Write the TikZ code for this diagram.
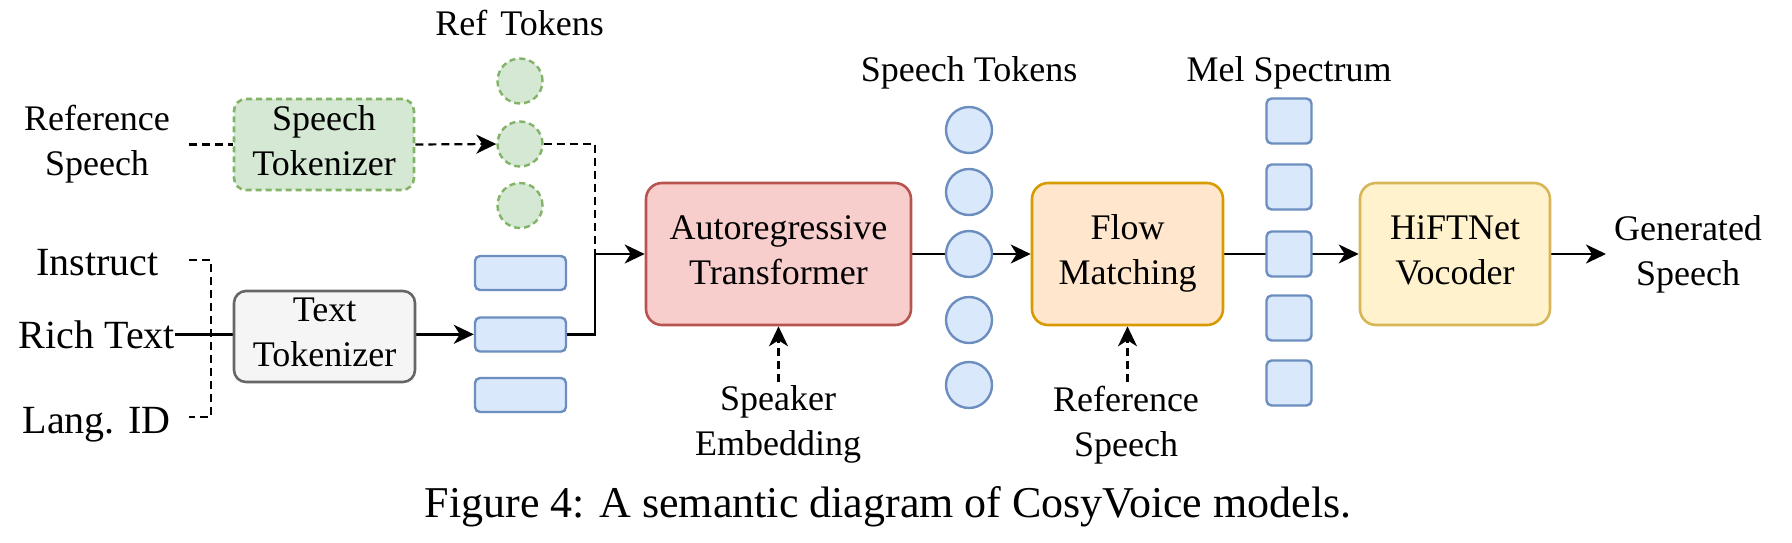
\documentclass[tikz,border=0pt]{standalone}
\usepackage{fontspec}
\setmainfont{Liberation Serif}
\usetikzlibrary{arrows.meta}
\definecolor{gfill}{HTML}{D5E8D4}\definecolor{gline}{HTML}{82B366}
\definecolor{bfill}{HTML}{DAE8FC}\definecolor{bline}{HTML}{6C8EBF}
\definecolor{rfill}{HTML}{F8CECC}\definecolor{rline}{HTML}{B85450}
\definecolor{ofill}{HTML}{FFE6CC}\definecolor{oline}{HTML}{D79B00}
\definecolor{yfill}{HTML}{FFF2CC}\definecolor{yline}{HTML}{D6B656}
\definecolor{kfill}{HTML}{F5F5F5}\definecolor{kline}{HTML}{666666}
\pgfdeclarelayer{bg}\pgfsetlayers{bg,main}
\begin{document}
\begin{tikzpicture}[x=1pt,y=-1pt,
  two/.style={execute at begin node={\rule{0pt}{34pt}}, execute at end node={\rule[-8pt]{0pt}{8pt}}},
  lbl/.style={font=\fontsize{36}{45}\selectfont, align=center, inner sep=0pt},
  big/.style={font=\fontsize{40}{48}\selectfont, inner sep=0pt, anchor=base},
  box/.style={draw, line width=2.6pt, rounded corners=14pt, align=center, inner sep=0pt,
    font=\fontsize{36}{45}\selectfont, two},
  gcirc/.style={circle, draw=gline, fill=gfill, line width=2.4pt, dash pattern=on 6pt off 4pt, minimum size=45pt, inner sep=0pt},
  scirc/.style={circle, draw=bline, fill=bfill, line width=2.4pt, minimum size=46pt, inner sep=0pt},
  brect/.style={rectangle, rounded corners=5pt, draw=bline, fill=bfill, line width=2.4pt, minimum width=91pt, minimum height=34pt, inner sep=0pt},
  msq/.style={rectangle, rounded corners=5pt, draw=bline, fill=bfill, line width=2.4pt, minimum size=45pt, inner sep=0pt},
  ln/.style={line width=2.6pt},
  dsh/.style={line width=2.2pt, dash pattern=on 8pt off 5pt},
  arr/.style={-{Stealth[length=20pt,width=19pt,inset=6pt]}}
]
\useasboundingbox (0,0) rectangle (1792,542);

% left inputs
\node[lbl, two] (refsp) at (97,144.5) {Reference\\Speech};
\node[big] (ins) at (97.5,275) {Instruct};
\node[big] (rich) at (97,348) {Rich Text};
\node[big] (lang) at (96.5,433) {Lang. ID};

% tokenizers
\node[box, draw=gline, fill=gfill, dash pattern=on 6pt off 4pt, rounded corners=12pt,
      minimum width=180pt, minimum height=91pt] (st) at (324,144.5) {Speech\\Tokenizer};
\node[box, draw=kline, fill=kfill, rounded corners=12pt,
      minimum width=181pt, minimum height=91pt] (tt) at (324.5,336.5) {Text\\Tokenizer};

% ref tokens
\node[lbl, anchor=base] (reft) at (519.5,35) {Ref\hspace{13pt}Tokens};
\node[gcirc] (gc1) at (520,81) {};
\node[gcirc] (gc2) at (520,144) {};
\node[gcirc] (gc3) at (520,205.5) {};

% text tokens
\node[brect] (br1) at (520.5,273) {};
\node[brect] (br2) at (520.5,334.5) {};
\node[brect] (br3) at (520.5,395) {};

% main blocks
\node[box, draw=rline, fill=rfill, rounded corners=16pt,
      minimum width=265pt, minimum height=142pt] (ar) at (778.5,254) {Autoregressive\\Transformer};
\node[box, draw=oline, fill=ofill, rounded corners=16pt,
      minimum width=191pt, minimum height=142pt] (fm) at (1127.5,254) {Flow\\Matching};
\node[box, draw=yline, fill=yfill, rounded corners=16pt,
      minimum width=190pt, minimum height=142pt] (hift) at (1455,254) {HiFTNet\\Vocoder};

% speech tokens
\node[lbl, anchor=base] (spt) at (969,81) {Speech Tokens};
\node[scirc] (sc1) at (969,130) {};
\node[scirc] (sc2) at (969,192) {};
\node[scirc] (sc3) at (969,254) {};
\node[scirc] (sc4) at (969,320) {};
\node[scirc] (sc5) at (969,385) {};

% mel spectrum
\node[lbl, anchor=base] (mel) at (1289,81) {Mel Spectrum};
\node[msq] (ms1) at (1289,121) {};
\node[msq] (ms2) at (1289,187) {};
\node[msq] (ms3) at (1289,254) {};
\node[msq] (ms4) at (1289,318) {};
\node[msq] (ms5) at (1289,383) {};

% outputs / side inputs
\node[lbl, two] (gen) at (1688,254.5) {Generated\\Speech};
\node[lbl, two] (spk) at (778,424.5) {Speaker\\Embedding};
\node[lbl, two] (rsp) at (1126,425) {Reference\\Speech};

% caption
\node[font=\fontsize{44}{53}\selectfont, anchor=base, inner sep=0pt] (cap) at (888,517)
  {Figure 4: A semantic diagram of CosyVoice models.};

% helper coordinates
\coordinate (rsA) at (189,144.5);
\coordinate (iA) at (189,260);
\coordinate (iB) at (211,260);
\coordinate (lB) at (211,417);
\coordinate (lA) at (189,417);
\coordinate (j1) at (595,254);
\coordinate (ge) at (1606,254);
\coordinate (spkA) at (778.5,382);
\coordinate (rspA) at (1127.5,382);

\begin{pgfonlayer}{bg}
  \draw[dsh] (rsA) -- (st.west);
  \draw[dsh, arr] (st.east) -- (gc2.west);
  \draw[dsh] (gc2.east) -| (j1);
  \draw[dsh] (iA) -- (iB) -- (lB) -- (lA);
  \draw[ln] (rich.east) -- (rich.east -| tt.west);
  \draw[ln, arr] (rich.east -| tt.east) -- (rich.east -| br2.west);
  \draw[ln, arr] (br2.east) -| (j1) -- (ar.west);
  \draw[ln, arr] (ar.east) -- (fm.west);
  \draw[ln, arr] (fm.east) -- (hift.west);
  \draw[ln, arr] (hift.east) -- (ge);
  \draw[dsh, arr] (spkA) -- (ar.south);
  \draw[dsh, arr] (rspA) -- (fm.south);
\end{pgfonlayer}
\end{tikzpicture}
\end{document}
